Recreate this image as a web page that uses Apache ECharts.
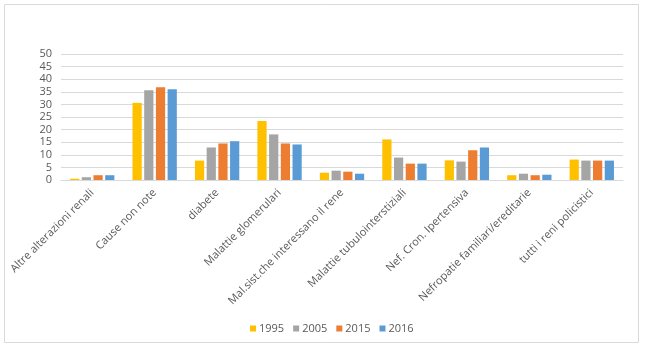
<!DOCTYPE html>
<html>
<head>
<meta charset="utf-8">
<script src="https://cdn.jsdelivr.net/npm/echarts@6/dist/echarts.min.js"></script>
<style>html,body{margin:0;padding:0;background:#fff;}#c{width:645px;height:348px;}</style>
</head>
<body>
<div id="c"></div>
<script>
var categories = ["Altre alterazioni renali","Cause non note","diabete","Malattie glomerulari","Mal.sist.che interessano il rene","Malattie tubulointerstiziali","Nef. Cron. Ipertensiva","Nefropatie familiari/ereditarie","tutti i reni policistici"];
var seriesNames = ["1995","2005","2015","2016"];
var v1995 = [0.5, 30.6, 7.7, 23.4, 2.9, 16.1, 7.8, 1.9, 8.1];
var v2005 = [1.1, 35.6, 12.9, 18.1, 3.7, 8.9, 7.3, 2.5, 7.7];
var v2015 = [1.9, 36.8, 14.5, 14.5, 3.3, 6.5, 11.8, 1.9, 7.7];
var v2016 = [1.9, 36.0, 15.4, 14.1, 2.5, 6.5, 12.9, 2.1, 7.7];
var yTicks = [0,5,10,15,20,25,30,35,40,45,50];
var colors = ["#FFC000","#A5A5A5","#ED7D31","#5B9BD5"];
var allValues = [v1995, v2005, v2015, v2016];
var FONT = "'Open Sans', 'Noto Sans', sans-serif";

var chart = echarts.init(document.getElementById('c'), null, {renderer:'canvas'});
chart.setOption({
  animation: false,
  color: colors,
  graphic: [{
    type: 'rect', shape: {x: 4.5, y: 4.5, width: 634, height: 338},
    style: {fill: 'none', stroke: '#D9D9D9', lineWidth: 1}, silent: true, z: -1
  }],
  grid: {left: 61, right: 22, top: 54, bottom: 168, containLabel: false},
  legend: {
    left: 245, top: 318, itemWidth: 6, itemHeight: 6, itemGap: 9,
    icon: 'rect',
    textStyle: {fontFamily: FONT, fontSize: 11, color: '#595959', padding: [0,0,0,-2]},
    data: seriesNames
  },
  xAxis: {
    type: 'category', data: categories,
    axisLine: {lineStyle: {color: '#D9D9D9'}},
    axisTick: {show: false},
    axisLabel: {rotate: 45, interval: 0, margin: 11, fontFamily: FONT, fontSize: 11, color: '#595959'}
  },
  yAxis: {
    type: 'value', min: yTicks[0], max: yTicks[yTicks.length-1], interval: 5,
    axisLine: {show: false}, axisTick: {show: false},
    splitLine: {lineStyle: {color: '#D9D9D9'}},
    axisLabel: {margin: 9, fontFamily: FONT, fontSize: 11, color: '#595959'}
  },
  series: seriesNames.map(function(n, i){
    return {name: n, type: 'bar', data: allValues[i], barGap: '27%', barCategoryGap: '29%'};
  })
});
</script>
</body>
</html>
